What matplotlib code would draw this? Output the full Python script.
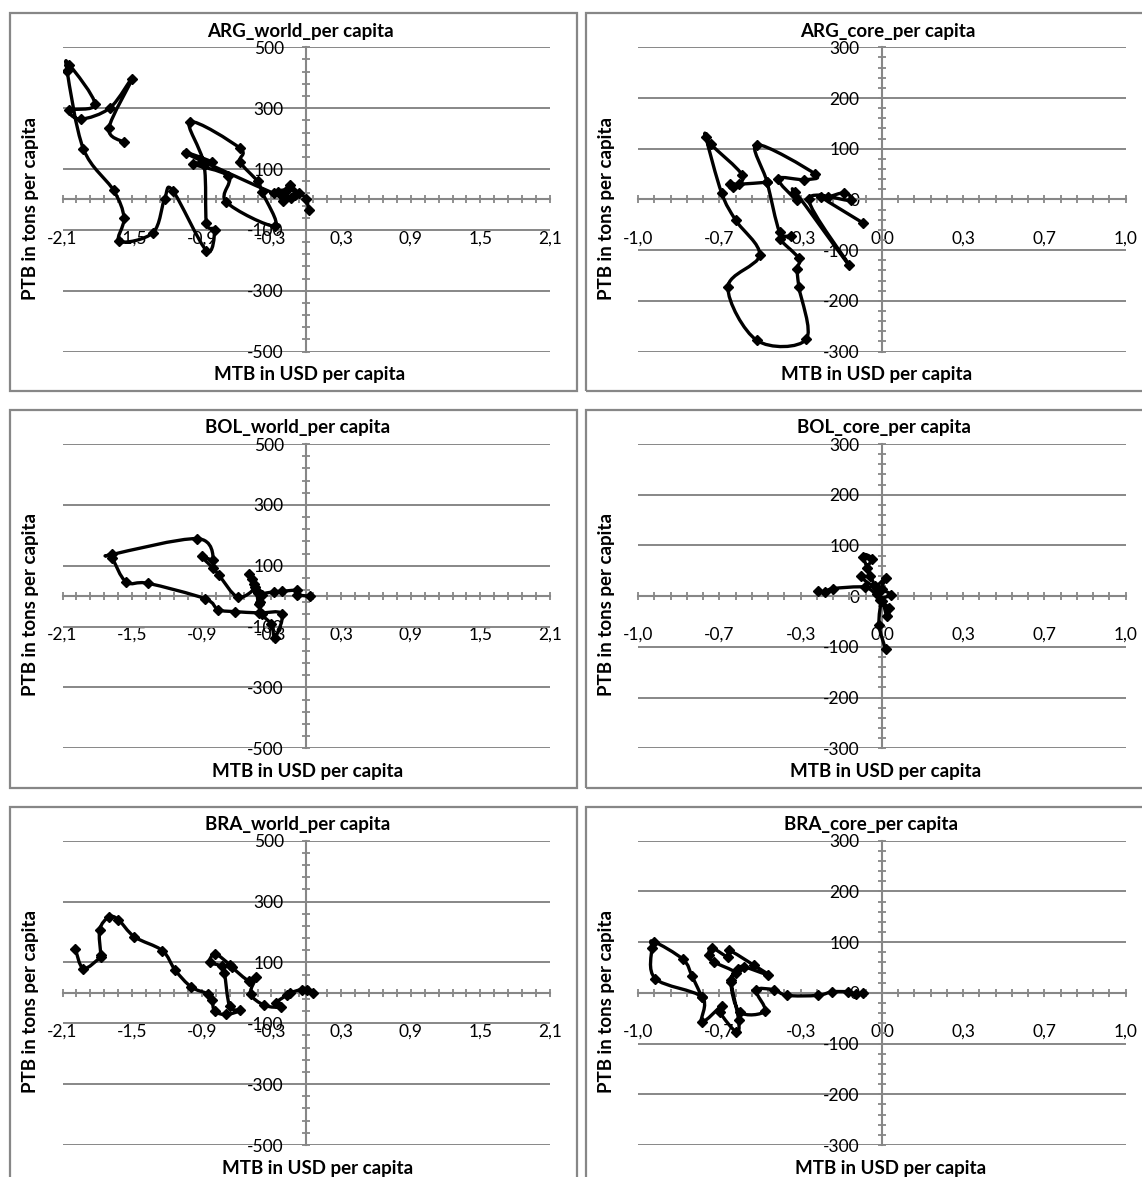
import numpy as np
import matplotlib
matplotlib.use("Agg")
import matplotlib.pyplot as plt
from matplotlib.path import Path
from matplotlib.patches import PathPatch, Rectangle
from matplotlib.ticker import FixedLocator, FixedFormatter

plt.rcParams['font.family'] = ['Lato', 'DejaVu Sans']

# ---------------- data (MTB in USD per capita, PTB in tons per capita) ----------------
ARG_world_x = [0.02, 0.0, -0.06, -0.14, -0.10, -0.20, -0.17, -0.24, -0.20, -0.13, -0.28,
               -1.04, -0.81, -0.98, -0.67, -0.69, -0.27, -0.38, -0.42, -0.57, -0.57, -1.00,
               -0.88, -0.86, -0.79, -0.86, -1.15, -1.22, -1.32, -1.61, -1.57, -1.66, -1.92,
               -2.06, -2.04, -1.82, -2.04, -1.94, -1.69, -1.50, -1.70, -1.57]
ARG_world_y = [-35, 3, 20, 47, 15, 10, 30, 25, -5, 5, 20,
               152, 122, 117, 76, -8, -87, 24, 60, 123, 168, 255,
               114, -76, -100, -168, 29, 3, -109, -138, -60, 30, 166,
               422, 442, 313, 293, 264, 301, 397, 234, 188]

ARG_core_x = [-0.079, -0.25, -0.221, -0.154, -0.129, -0.30, -0.135, -0.356, -0.348, -0.426,
              -0.318, -0.274, -0.513, -0.471, -0.42, -0.375, -0.42, -0.341, -0.348, -0.341,
              -0.311, -0.513, -0.632, -0.502, -0.60, -0.658, -0.722, -0.703, -0.573, -0.61,
              -0.625, -0.587, -0.471]
ARG_core_y = [-46, 5, 5, 13, -2, 0, -129, 15, -2, 41,
              39, 50, 108, 34, -64, -72, -77, -116, -137, -172,
              -276, -278, -173, -110, -41, 13, 123, 109, 48, 25,
              31, 30, 34]

BOL_world_x = [0.03, -0.08, -0.08, -0.21, -0.28, -0.38, -0.41, -0.43, -0.47, -0.49, -0.44,
               -0.59, -0.75, -0.80, -0.90, -0.80, -0.94, -1.67, -1.67, -1.55, -1.36, -0.875,
               -0.76, -0.61, -0.41, -0.21, -0.27, -0.30, -0.38, -0.40, -0.42, -0.45]
BOL_world_y = [0, 5, 19, 16, 14, 5, -27, 20, 55, 74, 30,
               -3, 68, 91, 131, 120, 189, 137, 126, 46, 42, -8,
               -44, -51, -55, -58, -137, -93, -60, -20, 10, 40]

BOL_core_x = [-0.263, -0.232, -0.20, -0.07, -0.02, -0.076, -0.04, -0.06, -0.05, -0.087,
              -0.03, 0.015, 0.0, 0.036, -0.01, 0.03, 0.02, 0.0, -0.012, 0.015]
BOL_core_y = [10, 9, 15, 18, 5, 77, 74, 56, 39, 39,
              20, 36, 15, 3, -8, -23, -39, -10, -56, -105]

BRA_world_x = [-1.99, -1.92, -1.77, -1.77, -1.78, -1.70, -1.62, -1.48, -1.24, -1.13, -0.99,
               -0.85, -0.81, -0.79, -0.69, -0.57, -0.66, -0.705, -0.73, -0.83, -0.785, -0.66,
               -0.64, -0.49, -0.43, -0.48, -0.36, -0.215, -0.26, -0.17, -0.14, -0.04, 0.006, 0.06]
BRA_world_y = [145, 80, 118, 126, 208, 249, 241, 184, 139, 75, 19,
               -3, -22, -60, -71, -57, -44, 66, 88, 101, 128, 93,
               84, 38, 52, -3, -41, -47, -33, -8, 0, 11, 8, -2]

BRA_core_x = [-0.079, -0.108, -0.138, -0.205, -0.264, -0.39, -0.442, -0.516, -0.48, -0.583,
              -0.62, -0.59, -0.564, -0.469, -0.524, -0.628, -0.63, -0.699, -0.709, -0.69,
              -0.60, -0.62, -0.588, -0.598, -0.665, -0.657, -0.739, -0.739, -0.93, -0.944,
              -0.936, -0.816, -0.779, -0.739]
BRA_core_y = [0, -2, 2, 2, -5, -5, 6, 5, -36, -38,
              21, 48, 51, 36, 54, 84, 70, 89, 74, 61,
              40, 25, -54, -77, -38, -25, -57, -8, 28, 89,
              101, 66, 33, -8]

titles = ["ARG_world_per capita", "ARG_core_per capita",
          "BOL_world_per capita", "BOL_core_per capita",
          "BRA_world_per capita", "BRA_core_per capita"]

world_xticks = [-2.1, -1.5, -0.9, -0.3, 0.3, 0.9, 1.5, 2.1]
world_xlabels = ["-2,1", "-1,5", "-0,9", "-0,3", "0,3", "0,9", "1,5", "2,1"]
world_yticks = [-500, -300, -100, 100, 300, 500]
world_ylabels = ["-500", "-300", "-100", "100", "300", "500"]
core_xticks = [-1.0, -2/3, -1/3, 0.0, 1/3, 2/3, 1.0]
core_xlabels = ["-1,0", "-0,7", "-0,3", "0,0", "0,3", "0,7", "1,0"]
core_yticks = [-300, -200, -100, 0, 100, 200, 300]
core_ylabels = ["-300", "-200", "-100", "0", "100", "200", "300"]

xlabel_text = "MTB in USD per capita"
ylabel_text = "PTB in tons per capita"

series = [(ARG_world_x, ARG_world_y), (ARG_core_x, ARG_core_y),
          (BOL_world_x, BOL_world_y), (BOL_core_x, BOL_core_y),
          (BRA_world_x, BRA_world_y), (BRA_core_x, BRA_core_y)]

# ---------------- layout (pixels) ----------------
W, H = 1142, 1177
fig = plt.figure(figsize=(W / 100, H / 100), dpi=100)
fig.patch.set_facecolor('white')

GRAY = '#878787'
col_left = [10, 585.7]
row_top = [13.3, 410.0, 806.7]
box_w, box_h = 566.7, 377.5
title_x = [300.7, 887.7, 297.5, 883.7, 298.0, 871.0]
xlab_x = [309.5, 876.8, 307.6, 886.0, 318.0, 890.6]


def fx(px):
    return px / W


def fy(py):
    return 1 - py / H


def smooth_path(x, y):
    P = np.column_stack([x, y]).astype(float)
    n = len(P)
    verts = [P[0]]
    codes = [Path.MOVETO]
    for i in range(n - 1):
        p0 = P[i - 1] if i > 0 else P[i]
        p1 = P[i]
        p2 = P[i + 1]
        p3 = P[i + 2] if i + 2 < n else P[i + 1]
        verts += [p1 + (p2 - p0) / 6.0, p2 - (p3 - p1) / 6.0, p2]
        codes += [Path.CURVE4] * 3
    return Path(verts, codes)


for k in range(6):
    r, c = divmod(k, 2)
    bl, bt = col_left[c], row_top[r]
    # chart border
    fig.add_artist(Rectangle((fx(bl), fy(bt + box_h)), box_w / W, box_h / H,
                             transform=fig.transFigure, fill=False, ec=GRAY, lw=1.6))
    L, R = bl + 52.5, bl + 540.0
    T, B = bt + 34.0, bt + 338.3
    ax = fig.add_axes([fx(L), fy(B), (R - L) / W, (B - T) / H])
    ax.patch.set_visible(False)
    ax.set_axisbelow(True)
    world = (c == 0)
    if world:
        ax.set_xlim(-2.1, 2.1)
        ax.set_ylim(-500, 500)
        xt, xl, yt, yl = world_xticks, world_xlabels, world_yticks, world_ylabels
        xminor = np.linspace(-2.1, 2.1, 36)
        yminor = np.linspace(-500, 500, 26)
    else:
        ax.set_xlim(-1.0, 1.0)
        ax.set_ylim(-300, 300)
        xt, xl, yt, yl = core_xticks, core_xlabels, core_yticks, core_ylabels
        xminor = np.linspace(-1.0, 1.0, 31)
        yminor = np.linspace(-300, 300, 31)
    ax.xaxis.set_major_locator(FixedLocator(xt))
    ax.xaxis.set_major_formatter(FixedFormatter(xl))
    ax.yaxis.set_major_locator(FixedLocator(yt))
    ax.yaxis.set_major_formatter(FixedFormatter(yl))
    ax.xaxis.set_minor_locator(FixedLocator(xminor))
    ax.yaxis.set_minor_locator(FixedLocator(yminor))

    for s in ['top', 'right']:
        ax.spines[s].set_visible(False)
    ax.spines['left'].set_position(('data', 0))
    ax.spines['bottom'].set_position(('data', 0))
    for s in ['left', 'bottom']:
        ax.spines[s].set_color(GRAY)
        ax.spines[s].set_linewidth(1.5)
        ax.spines[s].set_zorder(1)
    ax.tick_params(which='both', direction='inout', length=5.5, width=1.3, color=GRAY)
    ax.tick_params(axis='x', which='major', pad=19.5, labelsize=12.5, labelcolor='black')
    ax.tick_params(axis='y', which='major', pad=13.5, labelsize=12.5, labelcolor='black')
    ax.yaxis.grid(True, which='major', color=GRAY, lw=1.4)
    ax.xaxis.grid(False)

    xs, ys = series[k]
    ax.add_patch(PathPatch(smooth_path(xs, ys), fill=False, ec='black', lw=2.4,
                           joinstyle='round', capstyle='round', zorder=2))
    ax.plot(xs, ys, ls='none', marker='D', ms=5.5, color='black', zorder=3)

    fig.text(fx(title_x[k]), fy(bt + 17.7), titles[k], ha='center', va='center',
             fontsize=13.5, fontweight='bold')
    fig.text(fx(bl + 20.8), fy(bt + 195.0), ylabel_text, ha='center', va='center',
             rotation=90, fontsize=13.5, fontweight='bold')
    fig.text(fx(xlab_x[k]), fy(bt + 361.5), xlabel_text, ha='center', va='center',
             fontsize=13.5, fontweight='bold')

fig.savefig('out.png', dpi=100, facecolor='white')
